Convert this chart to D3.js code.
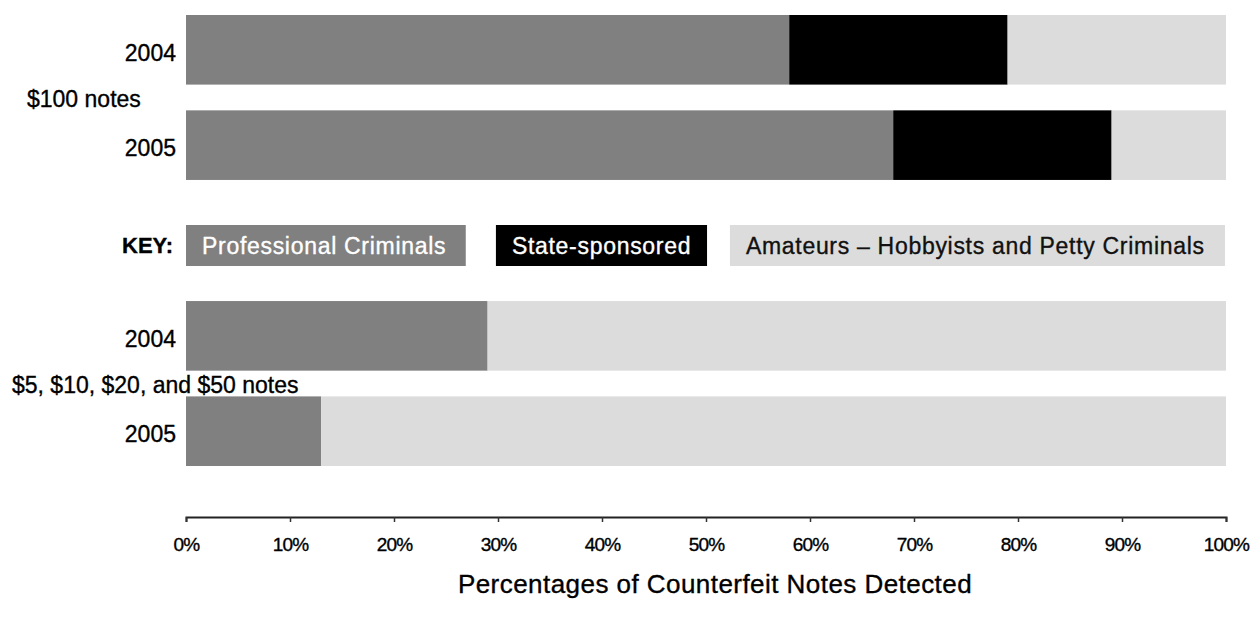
<!DOCTYPE html>
<html>
<head>
<meta charset="utf-8">
<script src="https://cdn.jsdelivr.net/npm/d3@7"></script>
<style>
  body { margin: 0; background: #fff; }
  svg text { font-family: "Liberation Sans", Arial, sans-serif; fill: #000; stroke: #000; stroke-width: 0.35px; }
</style>
</head>
<body>
<div id="chart"></div>
<script>
// data
var rows = ["c100_2004", "c100_2005", "key", "low_2004", "low_2005"]
var yearLabels = ["2004", "2005", "", "2004", "2005"]
var groupLabels = ["$100 notes", "$5, $10, $20, and $50 notes"]
var seriesNames = ["Professional Criminals", "State-sponsored", "Amateurs \u2013 Hobbyists and Petty Criminals"]
var professional = [58, 68, null, 29, 13]
var stateSponsored = [21, 21, null, 0, 0]
var amateurs = [21, 11, null, 71, 87]
var tickValues = [0, 10, 20, 30, 40, 50, 60, 70, 80, 90, 100]
var axisTitle = "Percentages of Counterfeit Notes Detected"

var colors = ["#808080", "#000000", "#dcdcdc"]
var textColors = ["#ffffff", "#ffffff", "#111111"]

var W = 1253, H = 626

var svg = d3.select("#chart").append("svg")
  .attr("width", W)
  .attr("height", H)

var x = d3.scaleLinear().domain([0, 100]).range([186, 1226])

var y = d3.scaleBand()
  .domain(rows)
  .range([15, 466])
  .paddingInner(0.27)

// stack the three series
var table = rows.map(function(r, i) {
  return { row: r, p: professional[i], s: stateSponsored[i], a: amateurs[i] }
}).filter(function(d) { return d.p !== null })

var stack = d3.stack().keys(["p", "s", "a"])
var layers = stack(table)

svg.selectAll(".layer")
  .data(layers)
  .enter()
  .append("g")
  .attr("class", "layer")
  .attr("fill", function(d, i) { return colors[i] })
  .selectAll("rect")
  .data(function(d) { return d })
  .enter()
  .append("rect")
  .attr("x", function(d) { return x(d[0]) })
  .attr("width", function(d) { return x(d[1]) - x(d[0]) })
  .attr("y", function(d) { return y(d.data.row) })
  .attr("height", y.bandwidth())

// year labels
svg.selectAll(".year")
  .data(rows)
  .enter()
  .append("text")
  .attr("class", "year")
  .attr("x", 176)
  .attr("y", function(d) { return y(d) + y.bandwidth() / 2 + 3 })
  .attr("dy", "0.35em")
  .attr("text-anchor", "end")
  .style("font-size", "23px")
  .text(function(d, i) { return yearLabels[i] })

// group labels, between the two years of each group
var groupRows = [["c100_2004", "c100_2005"], ["low_2004", "low_2005"]]
svg.selectAll(".group")
  .data(groupLabels)
  .enter()
  .append("text")
  .attr("class", "group")
  .attr("x", function(d, i) { return i == 0 ? 27 : 12 })
  .attr("y", function(d, i) {
    var a = y(groupRows[i][0]) + y.bandwidth()
    var b = y(groupRows[i][1])
    return (a + b) / 2 + 1
  })
  .attr("dy", "0.35em")
  .style("font-size", "23px")
  .text(function(d) { return d })

// key
var keyY = y("key") + y.bandwidth() / 2 + 5
svg.append("text")
  .attr("x", 173)
  .attr("y", keyY)
  .attr("dy", "0.35em")
  .attr("text-anchor", "end")
  .style("font-size", "22px")
  .style("font-weight", "bold")
  .text("KEY:")

var keyStarts = [0, 29.8, 52.3]
var keyEnds = [26.9, 50.1, 99.9]
var kg = svg.selectAll(".keyitem")
  .data(seriesNames)
  .enter()
  .append("g")
  .attr("class", "keyitem")

kg.append("rect")
  .attr("x", function(d, i) { return x(keyStarts[i]) })
  .attr("width", function(d, i) { return x(keyEnds[i]) - x(keyStarts[i]) })
  .attr("y", keyY - 20.5)
  .attr("height", 41)
  .attr("fill", function(d, i) { return colors[i] })

kg.append("text")
  .attr("x", function(d, i) { return x(keyStarts[i]) + 16 })
  .attr("y", keyY)
  .attr("dy", "0.35em")
  .style("font-size", "23px")
  .style("letter-spacing", "0.7px")
  .style("fill", function(d, i) { return textColors[i] })
  .style("stroke", function(d, i) { return textColors[i] })
  .text(function(d) { return d })

// x axis
var xaxis = svg.append("g")
  .attr("transform", "translate(0,517)")
  .call(d3.axisBottom(x)
    .tickValues(tickValues)
    .tickFormat(function(d) { return d + "%" })
    .tickSize(5)
    .tickPadding(16))

xaxis.select(".domain").attr("stroke", "#222").attr("stroke-width", 2)
xaxis.selectAll(".tick line").attr("stroke", "#333").attr("stroke-width", 1.5)
xaxis.selectAll(".tick text")
  .attr("fill", "#000")
  .style("font-size", "19px")
  .style("letter-spacing", "-0.8px")
  .style("font-family", "'Liberation Sans', Arial, sans-serif")

svg.append("text")
  .attr("x", (x(0) + x(100)) / 2 + 9)
  .attr("y", 584)
  .attr("dy", "0.35em")
  .attr("text-anchor", "middle")
  .style("font-size", "26px")
  .style("letter-spacing", "0.45px")
  .text(axisTitle)
</script>
</body>
</html>
